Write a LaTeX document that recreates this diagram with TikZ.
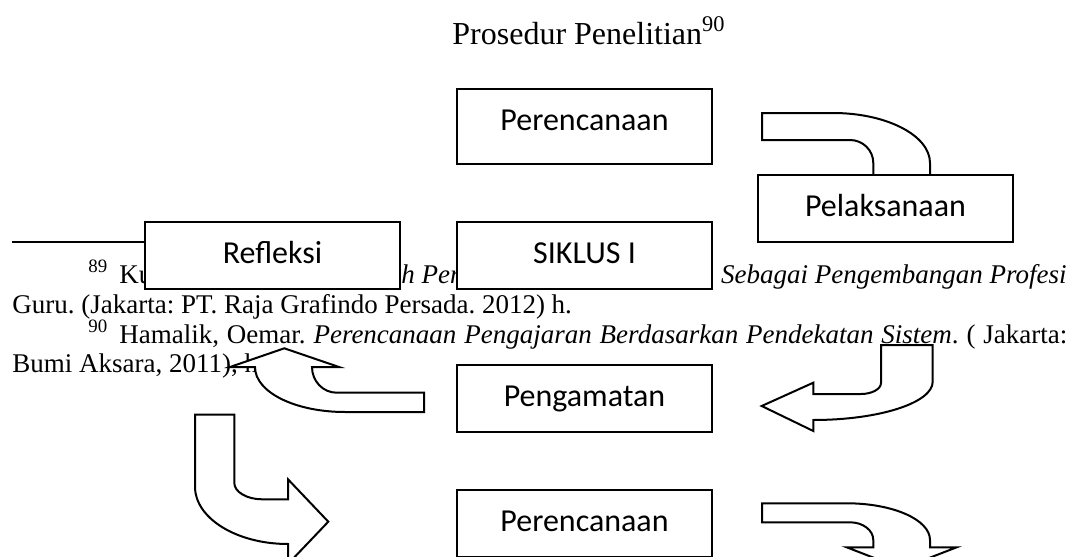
\documentclass[tikz,border=0pt]{standalone}
\usepackage{fontspec}
\setmainfont{Liberation Serif}
\newfontfamily\calibri{Carlito}
\usepackage{tikz}
\frenchspacing

\begin{document}
\begin{tikzpicture}[x=0.5pt, y=-0.5pt,
  stepbox/.style={draw, line width=1pt, fill=white, anchor=north west, minimum width=127.5pt,
    inner sep=0pt, text height=20.5pt, text depth=13pt, font=\calibri\fontsize{16}{19}\selectfont},
  bentarrow/.style={draw, line width=1pt, fill=white, line join=miter},
  fnote/.style={anchor=base west, inner sep=0pt, font=\fontsize{13.5}{15}\selectfont}]
 \useasboundingbox (0, 0) rectangle (1078, 557);
 \clip (0, 0) rectangle (1078, 557);

 \node (title) [anchor=base west, inner sep=0pt, font=\fontsize{16}{19}\selectfont] at (452, 44) {Prosedur Penelitian\textsuperscript{90}};

 % footnotes behind the cycle
 \node (fnKu) [fnote] at (88, 283) {\textsuperscript{89}\hspace{5.5pt}Ku};
 \node (fnPen) [fnote] at (401, 283) {\textit{h Pen}};
 \node (fnProf) [fnote, anchor=base east] at (1067, 283) {\textit{Sebagai Pengembangan Profesi}};
 \node (fnGuru) [fnote] at (12, 313) {Guru. (Jakarta: PT. Raja Grafindo Persada. 2012) h.};
 \node (fnHam) [fnote] at (88, 343) {\makebox[489.5pt][s]{\textsuperscript{90}\hspace{5.5pt}Hamalik, Oemar. \textit{Perencanaan Pengajaran Berdasarkan Pendekatan Sistem}. ( Jakarta:}};
 \node (fnBumi) [fnote] at (12, 372) {Bumi Aksara, 2011), h};
 \draw [line width=0.8pt] (12, 242) -- (300, 242);

 % arrows
 \draw [bentarrow] (762, 113) -- (833, 113) .. controls (886.5, 113) and (930, 135.4) .. (930, 163) -- (930, 180) -- (957, 180) -- (901.7, 201) -- (846.7, 180) -- (873.3, 180) -- (873.3, 163) .. controls (873.3, 150.3) and (862.9, 140) .. (850, 140) -- (762, 140) -- cycle;
 \draw [bentarrow] (881, 345) -- (932.7, 345) -- (932.7, 381.7) .. controls (932.7, 402.8) and (879.2, 420) .. (813.3, 420) -- (813.3, 431) -- (761.7, 406) -- (813.3, 382.7) -- (813.3, 394) -- (861, 394) .. controls (872, 394) and (881, 389) .. (881, 383) -- cycle;
 \draw [bentarrow] (424, 392.7) -- (336.7, 392.7) .. controls (323, 392.7) and (312, 381.2) .. (312, 367) -- (339, 367) -- (284.3, 348.3) -- (230, 367) -- (255, 367) .. controls (255, 392.3) and (295.3, 412) .. (345, 412) -- (424, 412) -- cycle;
 \draw [bentarrow] (195, 414.7) -- (234.3, 414.7) -- (234.3, 483) .. controls (234.3, 491.8) and (246.7, 499.3) .. (262, 499.3) -- (288, 499.3) -- (288, 479.3) -- (328.3, 521.7) -- (288, 564) -- (288, 544) .. controls (236.7, 544) and (195, 518.3) .. (195, 486.7) -- cycle;
 \draw [bentarrow] (762, 503.3) -- (846.7, 503.3) .. controls (892.8, 503.3) and (930, 519.6) .. (930, 540) -- (930, 547.3) -- (956.7, 547.3) -- (901.7, 568.6) -- (846.7, 547.3) -- (873.3, 547.3) -- (873.3, 540) .. controls (873.3, 530.2) and (862.9, 522.3) .. (850, 522.3) -- (762, 522.3) -- cycle;

 % boxes
 \node (plan) [stepbox, text depth=17pt] at (456, 88) {Perencanaan};
 \node (act) [stepbox] at (757, 174) {Pelaksanaan};
 \node (reflect) [stepbox] at (144, 221) {Refleksi};
 \node (cycle) [stepbox] at (456, 221) {SIKLUS I};
 \node (observe) [stepbox] at (456, 364) {Pengamatan};
 \node (replan) [stepbox] at (456, 489) {Perencanaan};
\end{tikzpicture}
\end{document}
